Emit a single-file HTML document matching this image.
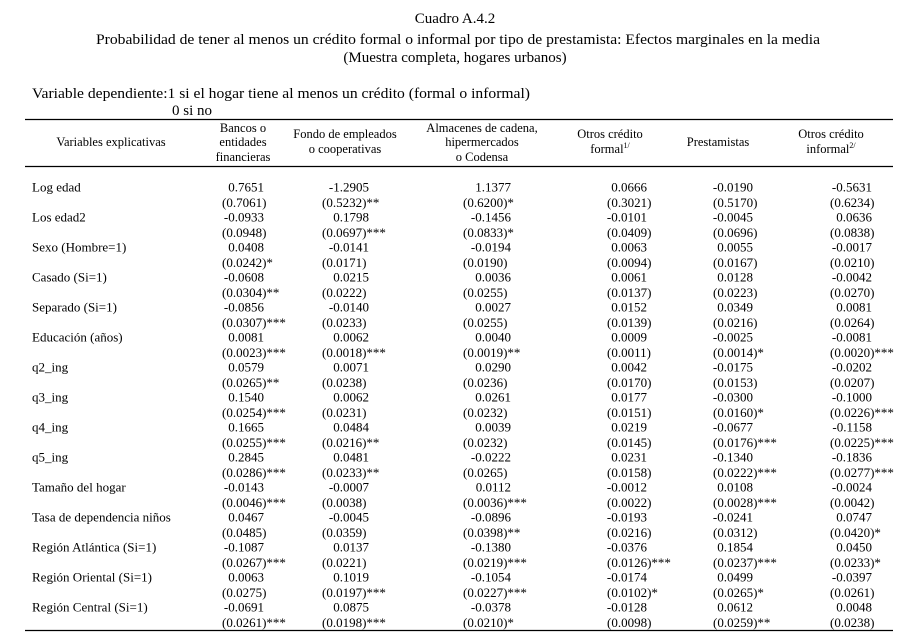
<!DOCTYPE html>
<html><head><meta charset="utf-8"><style>body{margin:0;background:#fff}svg{display:block}text{font-family:"Liberation Serif",serif;fill:#000}</style></head><body>
<svg width="909" height="637" xmlns="http://www.w3.org/2000/svg">
<g font-size="15" text-anchor="middle">
<text x="455" y="23">Cuadro A.4.2</text>
<text x="458" y="44" textLength="724" lengthAdjust="spacingAndGlyphs">Probabilidad de tener al menos un crédito formal o informal por tipo de prestamista: Efectos marginales en la media</text>
<text x="455" y="62">(Muestra completa, hogares urbanos)</text>
</g>
<text x="32" y="98" font-size="15" textLength="498" lengthAdjust="spacingAndGlyphs">Variable dependiente:1 si el hogar tiene al menos un crédito (formal o informal)</text>
<text x="172" y="115" font-size="15">0 si no</text>
<line x1="25" y1="119.5" x2="893" y2="119.5" stroke="#000" stroke-width="1.3"/>
<line x1="25" y1="166.5" x2="893" y2="166.5" stroke="#000" stroke-width="1.3"/>
<line x1="25" y1="630.5" x2="893" y2="630.5" stroke="#000" stroke-width="1.3"/>
<g font-size="12.5" text-anchor="middle">
<text x="111" y="146">Variables explicativas</text>
<text x="243" y="132">Bancos o</text><text x="243" y="146">entidades</text><text x="243" y="161">financieras</text>
<text x="345" y="138">Fondo de empleados</text><text x="345" y="153">o cooperativas</text>
<text x="482" y="132">Almacenes de cadena,</text><text x="482" y="146">hipermercados</text><text x="482" y="161">o Codensa</text>
<text x="610" y="138">Otros crédito</text><text x="610" y="153">formal<tspan font-size="8" dy="-5">1/</tspan></text>
<text x="718" y="146">Prestamistas</text>
<text x="831" y="138">Otros crédito</text><text x="831" y="153">informal<tspan font-size="8" dy="-5">2/</tspan></text>
</g>
<g id="rows" font-size="13"></g>
</svg>
<script>
var rows=[
["Log edad",["0.7651","(0.7061)"],["-1.2905","(0.5232)**"],["1.1377","(0.6200)*"],["0.0666","(0.3021)"],["-0.0190","(0.5170)"],["-0.5631","(0.6234)"]],
["Los edad2",["-0.0933","(0.0948)"],["0.1798","(0.0697)***"],["-0.1456","(0.0833)*"],["-0.0101","(0.0409)"],["-0.0045","(0.0696)"],["0.0636","(0.0838)"]],
["Sexo (Hombre=1)",["0.0408","(0.0242)*"],["-0.0141","(0.0171)"],["-0.0194","(0.0190)"],["0.0063","(0.0094)"],["0.0055","(0.0167)"],["-0.0017","(0.0210)"]],
["Casado (Si=1)",["-0.0608","(0.0304)**"],["0.0215","(0.0222)"],["0.0036","(0.0255)"],["0.0061","(0.0137)"],["0.0128","(0.0223)"],["-0.0042","(0.0270)"]],
["Separado (Si=1)",["-0.0856","(0.0307)***"],["-0.0140","(0.0233)"],["0.0027","(0.0255)"],["0.0152","(0.0139)"],["0.0349","(0.0216)"],["0.0081","(0.0264)"]],
["Educación (años)",["0.0081","(0.0023)***"],["0.0062","(0.0018)***"],["0.0040","(0.0019)**"],["0.0009","(0.0011)"],["-0.0025","(0.0014)*"],["-0.0081","(0.0020)***"]],
["q2_ing",["0.0579","(0.0265)**"],["0.0071","(0.0238)"],["0.0290","(0.0236)"],["0.0042","(0.0170)"],["-0.0175","(0.0153)"],["-0.0202","(0.0207)"]],
["q3_ing",["0.1540","(0.0254)***"],["0.0062","(0.0231)"],["0.0261","(0.0232)"],["0.0177","(0.0151)"],["-0.0300","(0.0160)*"],["-0.1000","(0.0226)***"]],
["q4_ing",["0.1665","(0.0255)***"],["0.0484","(0.0216)**"],["0.0039","(0.0232)"],["0.0219","(0.0145)"],["-0.0677","(0.0176)***"],["-0.1158","(0.0225)***"]],
["q5_ing",["0.2845","(0.0286)***"],["0.0481","(0.0233)**"],["-0.0222","(0.0265)"],["0.0231","(0.0158)"],["-0.1340","(0.0222)***"],["-0.1836","(0.0277)***"]],
["Tamaño del hogar",["-0.0143","(0.0046)***"],["-0.0007","(0.0038)"],["0.0112","(0.0036)***"],["-0.0012","(0.0022)"],["0.0108","(0.0028)***"],["-0.0024","(0.0042)"]],
["Tasa de dependencia niños",["0.0467","(0.0485)"],["-0.0045","(0.0359)"],["-0.0896","(0.0398)**"],["-0.0193","(0.0216)"],["-0.0241","(0.0312)"],["0.0747","(0.0420)*"]],
["Región Atlántica (Si=1)",["-0.1087","(0.0267)***"],["0.0137","(0.0221)"],["-0.1380","(0.0219)***"],["-0.0376","(0.0126)***"],["0.1854","(0.0237)***"],["0.0450","(0.0233)*"]],
["Región Oriental (Si=1)",["0.0063","(0.0275)"],["0.1019","(0.0197)***"],["-0.1054","(0.0227)***"],["-0.0174","(0.0102)*"],["0.0499","(0.0265)*"],["-0.0397","(0.0261)"]],
["Región Central (Si=1)",["-0.0691","(0.0261)***"],["0.0875","(0.0198)***"],["-0.0378","(0.0210)*"],["-0.0128","(0.0098)"],["0.0612","(0.0259)**"],["0.0048","(0.0238)"]]
];
var seX=[222,322,463,607,713,830],vX=[264,369,511,647,753,872];
var g=document.getElementById("rows"),h="";
rows.forEach(function(r,i){var y=191.5+i*30.0;
h+='<text x="32" y="'+y+'">'+r[0]+'</text>';
for(var c=0;c<6;c++){h+='<text x="'+vX[c]+'" y="'+y+'" text-anchor="end">'+r[c+1][0]+'</text>';
h+='<text x="'+seX[c]+'" y="'+(y+15.5)+'">'+r[c+1][1]+'</text>';}});
g.innerHTML=h;
</script>
</body></html>
